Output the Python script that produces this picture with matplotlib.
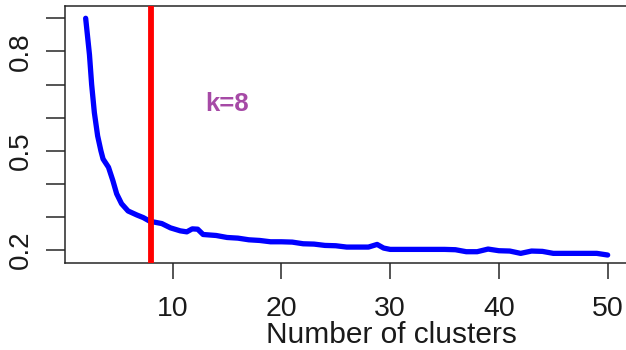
import matplotlib
matplotlib.use("Agg")
import matplotlib.pyplot as plt

k_vals = [2, 2.35, 2.55, 2.8, 3.1, 3.4, 3.6, 4.1, 4.5, 4.85,
          5.3, 5.9, 6.7, 7.3, 7.9, 9, 9.8, 10.7, 11.3, 11.8,
          12.3, 12.8, 14, 15, 16, 17, 18, 19, 20, 21,
          22, 23, 24, 25, 26, 27, 28, 28.8, 29.4, 30,
          31, 32, 33, 34, 35, 36, 37, 38, 39, 40,
          41, 42, 43, 44, 45, 46, 47, 48, 49, 50]
wss = [0.90, 0.79, 0.70, 0.615, 0.545, 0.50, 0.475, 0.45, 0.41, 0.37,
       0.34, 0.318, 0.306, 0.298, 0.287, 0.28, 0.267, 0.258, 0.255, 0.264,
       0.263, 0.247, 0.244, 0.238, 0.236, 0.231, 0.229, 0.225, 0.225, 0.224,
       0.219, 0.218, 0.214, 0.213, 0.209, 0.209, 0.209, 0.217, 0.206, 0.202,
       0.202, 0.202, 0.202, 0.202, 0.202, 0.201, 0.195, 0.195, 0.203, 0.198,
       0.197, 0.19, 0.197, 0.196, 0.19, 0.19, 0.19, 0.19, 0.19, 0.185]
chosen_k = 8
annot_text = "k=8"
x_ticks = [10, 20, 30, 40, 50]
y_ticks = [0.2, 0.3, 0.4, 0.5, 0.6, 0.7, 0.8, 0.9]
y_labels = ["0.2", "", "", "0.5", "", "", "0.8", ""]
xlabel = "Number of clusters"

plt.rcParams['font.family'] = ['Liberation Sans', 'DejaVu Sans']

W, H = 626, 350
fig = plt.figure(figsize=(W / 100, H / 100), dpi=100)
left, right, bottom, top = 65, 628, 263.3, 5.7
ax = fig.add_axes([left / W, (H - bottom) / H, (right - left) / W, (bottom - top) / H])

ax.plot(k_vals, wss, color='#0000FF', lw=3.8, solid_capstyle='round', solid_joinstyle='round', zorder=3)
ax.axvline(chosen_k, color='#FF0000', lw=4.2, zorder=4)
ax.text(15, 0.642, annot_text, color='#A64AA6', fontsize=18.5, fontweight='bold', ha='center', va='center')

ax.set_xlim(0.1, 51.87)
ax.set_ylim(0.16, 0.938)
ax.set_xticks(x_ticks)
ax.set_xticklabels([str(t) for t in x_ticks])
ax.set_yticks(y_ticks)
ax.set_yticklabels(y_labels, rotation=90, va='center')

for s in ax.spines.values():
    s.set_color('#262626')
    s.set_linewidth(1.1)

ax.tick_params(axis='x', length=11.5, width=1.1, color='#262626', labelsize=20.5, pad=12, labelcolor='#1a1a1a')
ax.tick_params(axis='y', length=13.5, width=1.1, color='#262626', labelsize=20, pad=9, labelcolor='#1a1a1a')

fig.text(391.5 / W, (H - 343) / H, xlabel, fontsize=21.5, ha='center', va='baseline', color='#1a1a1a')

fig.savefig('out.png', dpi=100)
